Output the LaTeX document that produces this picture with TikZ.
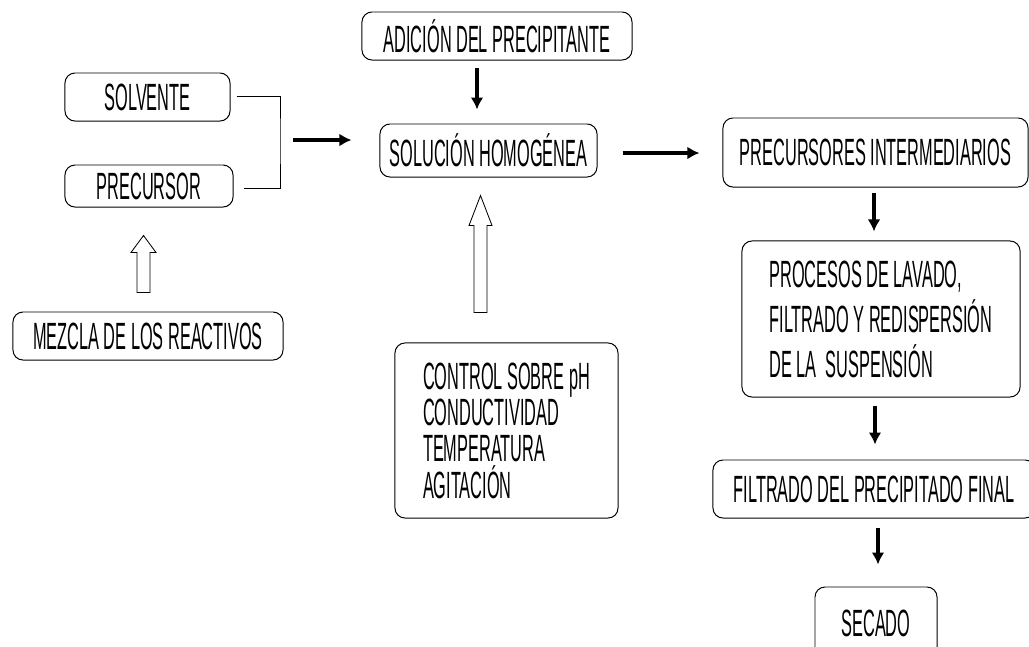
\documentclass[tikz,border=0pt]{standalone}
\usepackage{fontspec}
\setmainfont{Liberation Sans}[FakeStretch=0.43]
\usetikzlibrary{calc,arrows.meta}
\def\hollowarrow(#1)(#2)(#3:#4:#5){\draw[line width=0.6pt] ($(#1)+(-#3,0)$) -- ($(#2)+(-#3,#5)$) -- ($(#2)+(-#4,#5)$) -- (#2) -- ($(#2)+(#4,#5)$) -- ($(#2)+(#3,#5)$) -- ($(#1)+(#3,0)$) -- cycle;}

\tikzset{
	stage/.style={draw, line width=0.7pt, rounded corners=0.25cm, inner sep=0pt, font=\fontsize{27}{28}\selectfont},
	flow/.style={line width=2.8pt, -{Latex[length=3mm,width=3.2mm]}},
	link/.style={line width=0.7pt}
}

\begin{document}
\begin{tikzpicture}[x=0.025cm, y=-0.025cm]
		%%%%% START %%%%%
		\useasboundingbox (0, 0) rectangle (1029, 646);
		\clip (0, 0) rectangle (1029, 646);
		
		\node[stage, minimum width=4.125cm, minimum height=1.2cm] (solv) at (147.5, 97) {SOLVENTE};
		\node[stage, minimum width=4.2cm, minimum height=1.05cm] (prec) at (149, 186) {PRECURSOR};
		\node[stage, minimum width=6.75cm, minimum height=1.2cm] (mezcla) at (148, 336) {MEZCLA DE LOS REACTIVOS};
		
		\node[stage, minimum width=6.75cm, minimum height=1.2cm] (adic) at (497, 36) {ADICIÓN DEL PRECIPITANTE};
		\node[stage, minimum width=5.425cm, minimum height=1.325cm] (sol) at (488.5, 150.5) {SOLUCIÓN HOMOGÉNEA};
		\node[stage, minimum width=5.575cm, minimum height=4.375cm, align=left, font=\fontsize{27}{25.8}\selectfont] (ctrl) at (506.5, 430.5) {CONTROL SOBRE pH\\CONDUCTIVIDAD\\TEMPERATURA\\AGITACIÓN};
		
		\node[stage, minimum width=7.625cm, minimum height=1.725cm] (precint) at (875.5, 152.5) {PRECURSORES INTERMEDIARIOS};
		\node[stage, minimum width=6.95cm, minimum height=3.9cm, align=left, font=\fontsize{27}{32}\selectfont] (proc) at (881, 319) {PROCESOS DE LAVADO,\\FILTRADO Y REDISPERSIÓN\\DE LA~ SUSPENSIÓN};
		\node[stage, minimum width=8.05cm, minimum height=1.45cm] (filt) at (874, 489) {FILTRADO DEL PRECIPITADO FINAL};
		\node[stage, minimum width=3.05cm, minimum height=1.8cm] (sec) at (876, 623) {SECADO};
		
		% union de los reactivos
		\coordinate (brk) at (280, 140);
		\draw[link] ([shift={(6,-1)}]solv.east) -| (brk) |- ([shift={(10,2)}]prec.east);
		\draw[flow] ([shift={(13,0)}]brk) -- ([shift={(-28,0)}]sol.west |- brk);
		
		\draw[flow] ([shift={(-20,7)}]adic.south) -- ([shift={(-11.5,-14)}]sol.north);
		\draw[flow] ([shift={(25,2.5)}]sol.east) -- ([shift={(-23,0.5)}]precint.west);
		\draw[flow] ([shift={(-1.5,5)}]precint.south) -- ([shift={(-7,-9)}]proc.north);
		\draw[flow] ([shift={(-6,8)}]proc.south) -- ([shift={(1,-15)}]filt.north);
		\draw[flow] ([shift={(4,9)}]filt.south) -- ([shift={(2,-22)}]sec.north);
		
		% flechas huecas
		\coordinate (mzbase) at ([shift={(-4.5,-19)}]mezcla.north);
		\coordinate (mztip) at ($(mzbase |- prec.south)+(0,28)$);
		\hollowarrow(mzbase)(mztip)(6.5:12.5:17);
		
		\coordinate (ctbase) at ([shift={(-26,-30)}]ctrl.north);
		\coordinate (cttip) at ($(ctbase |- sol.south)+(0,18)$);
		\hollowarrow(ctbase)(cttip)(6.5:11.5:30);
		
		%%%%% END %%%%%
	\end{tikzpicture}
\end{document}
